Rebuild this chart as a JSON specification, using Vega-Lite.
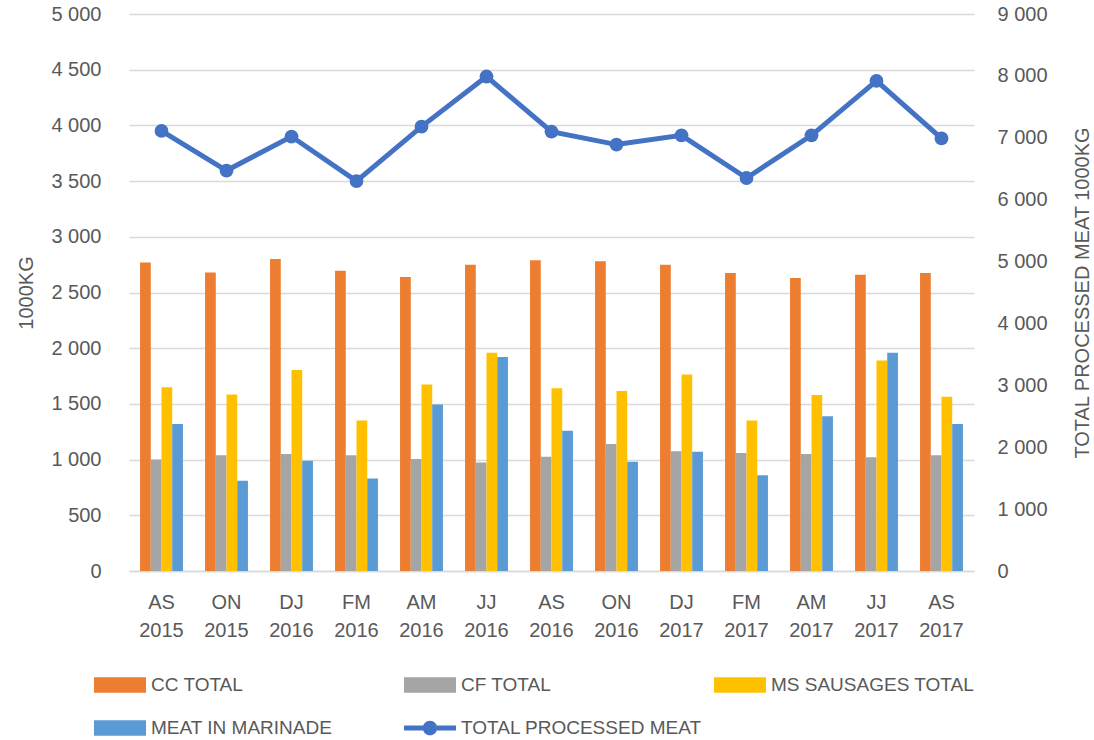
{
  "$schema": "https://vega.github.io/schema/vega-lite/v6.json",
  "width": 845,
  "height": 557,
  "autosize": {"type": "none"},
  "padding": {"left": 129, "top": 14, "right": 120, "bottom": 169},
  "config": {
    "view": {"stroke": null},
    "font": "Liberation Sans",
    "axis": {"labelColor": "#595959", "titleColor": "#595959", "labelFontSize": 20, "titleFontSize": 20, "titleFontWeight": "normal", "ticks": false}
  },
  "datasets": {
    "bars": [
      {"period": "AS 2015", "series": "CC TOTAL", "value": 2770},
      {"period": "ON 2015", "series": "CC TOTAL", "value": 2680},
      {"period": "DJ 2016", "series": "CC TOTAL", "value": 2800},
      {"period": "FM 2016", "series": "CC TOTAL", "value": 2695},
      {"period": "AM 2016", "series": "CC TOTAL", "value": 2640},
      {"period": "JJ 2016", "series": "CC TOTAL", "value": 2750},
      {"period": "AS 2016", "series": "CC TOTAL", "value": 2790},
      {"period": "ON 2016", "series": "CC TOTAL", "value": 2780},
      {"period": "DJ 2017", "series": "CC TOTAL", "value": 2750},
      {"period": "FM 2017", "series": "CC TOTAL", "value": 2675},
      {"period": "AM 2017", "series": "CC TOTAL", "value": 2630},
      {"period": "JJ 2017", "series": "CC TOTAL", "value": 2660},
      {"period": "AS 2017", "series": "CC TOTAL", "value": 2675},
      {"period": "AS 2015", "series": "CF TOTAL", "value": 1000},
      {"period": "ON 2015", "series": "CF TOTAL", "value": 1040},
      {"period": "DJ 2016", "series": "CF TOTAL", "value": 1050},
      {"period": "FM 2016", "series": "CF TOTAL", "value": 1040},
      {"period": "AM 2016", "series": "CF TOTAL", "value": 1005},
      {"period": "JJ 2016", "series": "CF TOTAL", "value": 975},
      {"period": "AS 2016", "series": "CF TOTAL", "value": 1025},
      {"period": "ON 2016", "series": "CF TOTAL", "value": 1140},
      {"period": "DJ 2017", "series": "CF TOTAL", "value": 1075},
      {"period": "FM 2017", "series": "CF TOTAL", "value": 1060},
      {"period": "AM 2017", "series": "CF TOTAL", "value": 1050},
      {"period": "JJ 2017", "series": "CF TOTAL", "value": 1020},
      {"period": "AS 2017", "series": "CF TOTAL", "value": 1040},
      {"period": "AS 2015", "series": "MS SAUSAGES TOTAL", "value": 1650},
      {"period": "ON 2015", "series": "MS SAUSAGES TOTAL", "value": 1585},
      {"period": "DJ 2016", "series": "MS SAUSAGES TOTAL", "value": 1805},
      {"period": "FM 2016", "series": "MS SAUSAGES TOTAL", "value": 1350},
      {"period": "AM 2016", "series": "MS SAUSAGES TOTAL", "value": 1675},
      {"period": "JJ 2016", "series": "MS SAUSAGES TOTAL", "value": 1960},
      {"period": "AS 2016", "series": "MS SAUSAGES TOTAL", "value": 1640},
      {"period": "ON 2016", "series": "MS SAUSAGES TOTAL", "value": 1615},
      {"period": "DJ 2017", "series": "MS SAUSAGES TOTAL", "value": 1765},
      {"period": "FM 2017", "series": "MS SAUSAGES TOTAL", "value": 1350},
      {"period": "AM 2017", "series": "MS SAUSAGES TOTAL", "value": 1580},
      {"period": "JJ 2017", "series": "MS SAUSAGES TOTAL", "value": 1890},
      {"period": "AS 2017", "series": "MS SAUSAGES TOTAL", "value": 1565},
      {"period": "AS 2015", "series": "MEAT IN MARINADE", "value": 1320},
      {"period": "ON 2015", "series": "MEAT IN MARINADE", "value": 810},
      {"period": "DJ 2016", "series": "MEAT IN MARINADE", "value": 990},
      {"period": "FM 2016", "series": "MEAT IN MARINADE", "value": 830},
      {"period": "AM 2016", "series": "MEAT IN MARINADE", "value": 1495},
      {"period": "JJ 2016", "series": "MEAT IN MARINADE", "value": 1920},
      {"period": "AS 2016", "series": "MEAT IN MARINADE", "value": 1260},
      {"period": "ON 2016", "series": "MEAT IN MARINADE", "value": 980},
      {"period": "DJ 2017", "series": "MEAT IN MARINADE", "value": 1070},
      {"period": "FM 2017", "series": "MEAT IN MARINADE", "value": 860},
      {"period": "AM 2017", "series": "MEAT IN MARINADE", "value": 1390},
      {"period": "JJ 2017", "series": "MEAT IN MARINADE", "value": 1960},
      {"period": "AS 2017", "series": "MEAT IN MARINADE", "value": 1320}
    ],
    "total": [
      {"period": "AS 2015", "total": 7110},
      {"period": "ON 2015", "total": 6470},
      {"period": "DJ 2016", "total": 7020},
      {"period": "FM 2016", "total": 6300},
      {"period": "AM 2016", "total": 7180},
      {"period": "JJ 2016", "total": 7990},
      {"period": "AS 2016", "total": 7100},
      {"period": "ON 2016", "total": 6890},
      {"period": "DJ 2017", "total": 7040},
      {"period": "FM 2017", "total": 6350},
      {"period": "AM 2017", "total": 7040},
      {"period": "JJ 2017", "total": 7920},
      {"period": "AS 2017", "total": 6990}
    ]
  },
  "layer": [
    {
      "data": {"name": "bars"},
      "mark": {"type": "bar"},
      "encoding": {
        "x": {
          "field": "period", "type": "nominal",
          "sort": ["AS 2015","ON 2015","DJ 2016","FM 2016","AM 2016","JJ 2016","AS 2016","ON 2016","DJ 2017","FM 2017","AM 2017","JJ 2017","AS 2017"],
          "scale": {"paddingInner": 0.34, "paddingOuter": 0.17},
          "axis": {"title": null, "labelAngle": 0, "labelExpr": "split(datum.label, ' ')", "labelLineHeight": 28, "labelPadding": 21, "domainColor": "#D9D9D9", "domainWidth": 1.5}
        },
        "xOffset": {
          "field": "series", "type": "nominal",
          "scale": {"domain": ["CC TOTAL", "CF TOTAL", "MS SAUSAGES TOTAL", "MEAT IN MARINADE"], "paddingInner": 0, "paddingOuter": 0}
        },
        "y": {
          "field": "value", "type": "quantitative",
          "scale": {"domain": [0, 5000], "nice": false},
          "axis": {"title": "1000KG", "values": [0,500,1000,1500,2000,2500,3000,3500,4000,4500,5000], "labelExpr": "replace(format(datum.value, ','), ',', ' ')", "domain": false, "grid": true, "gridColor": "#D9D9D9", "gridWidth": 1.5, "labelPadding": 28, "titlePadding": 14}
        },
        "color": {
          "field": "series", "type": "nominal",
          "scale": {"domain": ["CC TOTAL", "CF TOTAL", "MS SAUSAGES TOTAL", "MEAT IN MARINADE", "TOTAL PROCESSED MEAT"], "range": ["#ED7D31", "#A5A5A5", "#FFC000", "#5B9BD5", "#4472C4"]},
          "legend": {
            "title": null, "orient": "none", "direction": "horizontal", "legendX": -35, "legendY": 645,
            "columns": 3, "gridAlign": "all", "columnPadding": 12, "rowPadding": 7,
            "symbolSize": 2704, "labelOffset": 5, "labelFontSize": 19, "labelColor": "#595959", "labelLimit": 400,
            "symbolType": "M-1,-0.3H1V0.3H-1Z",
            "encode": {
              "symbols": {
                "update": {
                  "shape": {"signal": "datum.value === 'TOTAL PROCESSED MEAT' ? 'M-1,-0.1H1V0.1H-1Z M0.28,0A0.28,0.28,0,1,1,-0.28,0A0.28,0.28,0,1,1,0.28,0Z' : 'M-1,-0.3H1V0.3H-1Z'"},
                  "fill": {"signal": "scale('color', datum.value)"},
                  "stroke": {"value": "transparent"},
                  "strokeWidth": {"value": 0},
                  "opacity": {"value": 1}
                }
              }
            }
          }
        }
      }
    },
    {
      "data": {"name": "total"},
      "mark": {"type": "line", "strokeWidth": 5, "point": {"size": 190, "filled": true, "opacity": 1}},
      "encoding": {
        "x": {
          "field": "period", "type": "nominal",
          "sort": ["AS 2015","ON 2015","DJ 2016","FM 2016","AM 2016","JJ 2016","AS 2016","ON 2016","DJ 2017","FM 2017","AM 2017","JJ 2017","AS 2017"]
        },
        "y": {
          "field": "total", "type": "quantitative",
          "scale": {"domain": [0, 9000], "nice": false},
          "axis": {"orient": "right", "title": "TOTAL PROCESSED MEAT 1000KG", "titleAngle": -90, "values": [0,1000,2000,3000,4000,5000,6000,7000,8000,9000], "labelExpr": "replace(format(datum.value, ','), ',', ' ')", "domain": false, "grid": false, "labelPadding": 23, "titlePadding": 45}
        },
        "color": {"datum": "TOTAL PROCESSED MEAT"}
      }
    }
  ],
  "resolve": {"scale": {"y": "independent"}}
}
